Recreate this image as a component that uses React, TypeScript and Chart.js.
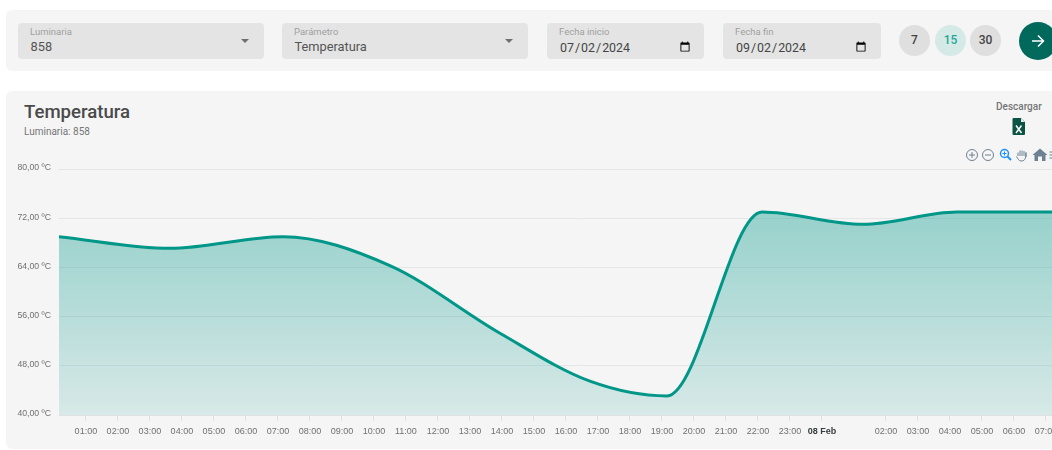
import React, { useEffect, useRef } from "react";
import { Chart, registerables } from "chart.js";

Chart.register(...registerables);

// hours counted from 07 Feb 00:00
const sampleHours = [0.16, 3.63, 7.16, 10.5, 13.94, 16.75, 19.16, 22.13, 25.28, 28.22, 32.7];
const temperatures = [69.0, 67.1, 69.0, 64.3, 53.3, 45.5, 43.1, 73.0, 71.0, 73.0, 73.0];
const tickHours = [1, 2, 3, 4, 5, 6, 7, 8, 9, 10, 11, 12, 13, 14, 15, 16, 17, 18, 19, 20, 21, 22, 23, 24, 26, 27, 28, 29, 30, 31];
const tickLabels = ["01:00", "02:00", "03:00", "04:00", "05:00", "06:00", "07:00", "08:00", "09:00", "10:00", "11:00", "12:00", "13:00", "14:00", "15:00", "16:00", "17:00", "18:00", "19:00", "20:00", "21:00", "22:00", "23:00", "08 Feb", "02:00", "03:00", "04:00", "05:00", "06:00", "07:00"];
const dayTick = 24;
const yMin = 40;
const yMax = 80;
const yStep = 8;
const unit = "ºC";

const AXIS_FONT = "'Liberation Sans', Arial, sans-serif";
const UI_FONT = "Roboto, sans-serif";

const abs = (left: number, top: number, width: number, height: number): React.CSSProperties => ({
  position: "absolute",
  left,
  top,
  width,
  height,
});

// Lifts the y-axis labels slightly above their grid lines.
const liftYLabels = {
  id: "liftYLabels",
  beforeDraw(chart: any) {
    for (const item of chart.scales.y.getLabelItems(chart.chartArea)) {
      if (!item.options.lifted) {
        item.options.translation[1] -= 1;
        item.options.lifted = true;
      }
    }
  },
};

function Field({ left, width, label, value }: { left: number; width: number; label: string; value: string }) {
  return (
    <div style={{ ...abs(left, 23, width, 36), background: "#e4e4e4", borderRadius: 4 }}>
      <div style={{ position: "absolute", left: 12, top: 3, fontSize: 9.5, color: "#a0a0a0", lineHeight: "12px" }}>{label}</div>
      <div style={{ position: "absolute", left: 12.5, top: 16, fontSize: 12.8, color: "#555", lineHeight: "16px" }}>{value}</div>
      <div
        style={{
          position: "absolute",
          right: 15,
          top: 16,
          width: 0,
          height: 0,
          borderLeft: "4px solid transparent",
          borderRight: "4px solid transparent",
          borderTop: "4px solid #6f6f6f",
        }}
      />
    </div>
  );
}

function DateField({ left, width, label, value }: { left: number; width: number; label: string; value: string }) {
  return (
    <div style={{ ...abs(left, 23, width, 36), background: "#e4e4e4", borderRadius: 4 }}>
      <div style={{ position: "absolute", left: 12, top: 3, fontSize: 9.5, color: "#a0a0a0", lineHeight: "12px" }}>{label}</div>
      <input
        type="date"
        defaultValue={value}
        style={{
          position: "absolute",
          left: 12,
          top: 15,
          width: 134,
          height: 18,
          padding: 0,
          border: "none",
          outline: "none",
          background: "transparent",
          fontFamily: UI_FONT,
          fontSize: 12.4,
          color: "#444",
        }}
      />
    </div>
  );
}

function Circle({ left, label, active }: { left: number; label: string; active?: boolean }) {
  return (
    <div
      style={{
        ...abs(left, 25, 31, 31),
        borderRadius: "50%",
        background: active ? "#d5eae7" : "#dfdfdf",
        color: active ? "#26a69a" : "#444",
        fontSize: 12,
        fontWeight: 500,
        textAlign: "center",
        lineHeight: "31px",
      }}
    >
      {label}
    </div>
  );
}

function Toolbar() {
  const c = "#6e8192";
  return (
    <svg style={{ ...abs(960, 146, 92, 18) }} viewBox="0 0 92 18">
      <circle cx="12" cy="9" r="5.500" fill="none" stroke={c} strokeWidth="1" />
      <path d="M9 9h6M12 6v6" stroke={c} strokeWidth="1" />
      <circle cx="28" cy="9" r="5.500" fill="none" stroke={c} strokeWidth="1" />
      <path d="M25 9h6" stroke={c} strokeWidth="1" />
      <circle cx="44.500" cy="7.500" r="4" fill="none" stroke="#1e90ff" strokeWidth="1.500" />
      <path d="M47.500 10.500l3.500 3.500" stroke="#1e90ff" strokeWidth="2" />
      <path d="M42.500 7.500h4M44.500 5.500v4" stroke="#1e90ff" strokeWidth="1" />
      <path d="M58 10V6.500M60 10V4.500M62 10V4.500M64 10V5M66 11V6.500C66 14 64 15 61 15 59 15 58 13 56.500 10.500" fill="none" stroke={c} strokeWidth="1" />
      <path d="M78 15v-4.500h4V15h3.500V9h2L80 2.500 72.500 9h2v6z" fill={c} />
      <path d="M89.500 6h4M89.500 9h4M89.500 12h4" stroke={c} strokeWidth="1.200" />
    </svg>
  );
}

export default function App() {
  const ref = useRef<HTMLCanvasElement | null>(null);

  useEffect(() => {
    if (!ref.current) return;
    const chart = new Chart(ref.current, {
      type: "line",
      plugins: [liftYLabels],
      data: {
        datasets: [
          {
            data: sampleHours.map((h, i) => ({ x: h, y: temperatures[i] })),
            borderColor: "#009688",
            borderWidth: 3,
            pointRadius: 0,
            cubicInterpolationMode: "monotone",
            fill: "start",
            backgroundColor: (ctx: any) => {
              const { chart: ch } = ctx;
              if (!ch.chartArea) return "rgba(0,150,136,0.25)";
              const top = ch.scales.y.getPixelForValue(Math.max(...temperatures));
              const g = ch.ctx.createLinearGradient(0, top, 0, ch.chartArea.bottom);
              g.addColorStop(0, "rgba(0,150,136,0.38)");
              g.addColorStop(1, "rgba(0,150,136,0.12)");
              return g;
            },
          },
        ],
      },
      options: {
        animation: false,
        responsive: false,
        layout: { padding: { top: 19, left: 0, right: 0, bottom: 0 } },
        plugins: { legend: { display: false }, tooltip: { enabled: false } },
        scales: {
          x: {
            type: "linear",
            min: 0.16,
            max: 32.69,
            afterBuildTicks: (scale: any) => {
              scale.ticks = tickHours.map((value) => ({ value }));
            },
            afterFit: (box: any) => {
              box.height = 35;
            },
            border: { color: "#e0e0e0" },
            grid: { drawOnChartArea: false, drawTicks: true, tickLength: 6, tickColor: "#e0e0e0" },
            ticks: {
              autoSkip: false,
              maxRotation: 0,
              padding: 5,
              callback: (value: any) => tickLabels[tickHours.indexOf(value)] ?? "",
              color: (ctx: any) => (ctx.tick?.value === dayTick ? "#373d3f" : "#707070"),
              font: (ctx: any) => ({
                family: AXIS_FONT,
                size: 9,
                weight: ctx.tick?.value === dayTick ? "bold" : "normal",
              }),
            },
          },
          y: {
            type: "linear",
            min: yMin,
            max: yMax,
            afterFit: (box: any) => {
              box.width = 59;
            },
            border: { display: false },
            grid: { color: "#e6e6e6", drawTicks: false, lineWidth: 1 },
            ticks: {
              autoSkip: false,
              stepSize: yStep,
              padding: 8,
              color: "#707070",
              font: { family: AXIS_FONT, size: 8.7 },
              callback: (value: any) => `${Number(value).toFixed(2).replace(".", ",")} ${unit}`,
            },
          },
        },
      },
    } as any);
    return () => chart.destroy();
  }, []);

  return (
    <div style={{ ...abs(0, 0, 1052, 450), overflow: "hidden", background: "#fff", fontFamily: UI_FONT }}>
      <div style={{ ...abs(6, 10, 1060, 61), background: "#f5f5f5", borderRadius: 6 }} />
      <Field left={18} width={246} label="Luminaria" value="858" />
      <Field left={282} width={246} label="Parámetro" value="Temperatura" />
      <DateField left={547} width={157} label="Fecha inicio" value="2024-07-02" />
      <DateField left={723} width={158} label="Fecha fin" value="2024-09-02" />
      <Circle left={899} label="7" />
      <Circle left={935} label="15" active />
      <Circle left={970} label="30" />
      <div style={{ ...abs(1019, 22, 38, 38), borderRadius: "50%", background: "#00695c" }}>
        <svg style={{ position: "absolute", left: 11, top: 11 }} width="16" height="16" viewBox="0 0 16 16">
          <path d="M2 8h11M8 2.500L13.500 8 8 13.500" fill="none" stroke="#fff" strokeWidth="1.500" />
        </svg>
      </div>

      <div style={{ ...abs(6, 91, 1060, 358), background: "#f5f5f5", borderRadius: 6 }} />
      <div style={{ position: "absolute", left: 24, top: 100, fontSize: 18.6, fontWeight: 500, color: "#4a4a4a", lineHeight: "24px" }}>Temperatura</div>
      <div style={{ position: "absolute", left: 24, top: 126, fontSize: 10, color: "#757575", lineHeight: "12px" }}>Luminaria: 858</div>
      <div style={{ position: "absolute", left: 996, top: 101, fontSize: 10, fontWeight: 500, color: "#757575", lineHeight: "12px" }}>Descargar</div>
      <svg style={{ ...abs(1012, 118, 14, 17) }} viewBox="0 0 14 17">
        <path d="M1.500 0H9l4 4v12a1 1 0 0 1-1 1H1.500a1 1 0 0 1-1-1V1a1 1 0 0 1 1-1z" fill="#0b5345" />
        <path d="M9 0v4h4z" fill="#dfeee9" />
        <path d="M4 7.500l5.500 7.500M9.500 7.500L4 15" stroke="#fff" strokeWidth="1.500" />
      </svg>
      <Toolbar />

      <canvas ref={ref} width={1100} height={300} style={{ ...abs(0, 150, 1100, 300), display: "block" }} />
    </div>
  );
}
